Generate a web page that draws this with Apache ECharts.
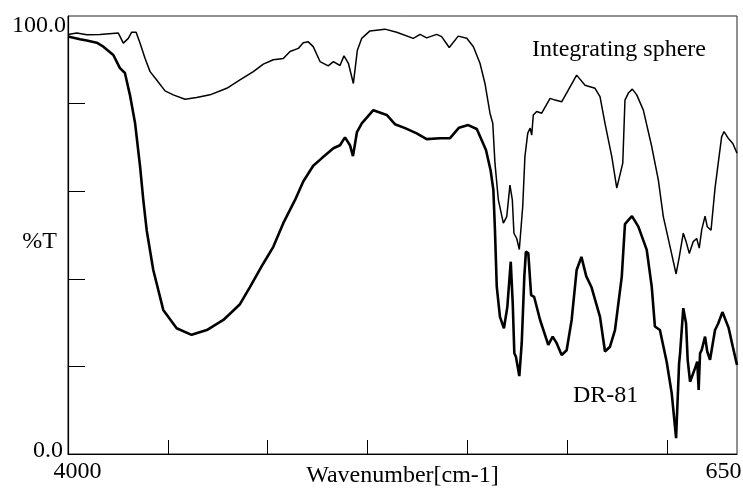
<!DOCTYPE html>
<html>
<head>
<meta charset="utf-8">
<script src="https://cdn.jsdelivr.net/npm/echarts@6/dist/echarts.min.js"></script>
<style>
html,body{margin:0;padding:0;background:#fff;}
#chart{width:743px;height:489px;}
</style>
</head>
<body>
<div id="chart"></div>
<script>
// Integrating sphere spectrum
var sphereWn = [4000,3956,3906,3840,3748,3723,3698,3681,3659,3639,3614,3589,3556,3514,3473,3414,3356,3289,3205,3139,3072,3022,2972,2922,2888,2847,2822,2797,2772,2738,2697,2671,2638,2618,2596,2571,2551,2529,2488,2413,2354,2271,2237,2204,2154,2129,2091,2046,2003,1970,1937,1912,1887,1873,1862,1845,1820,1803,1787,1775,1767,1753,1740,1723,1712,1698,1686,1678,1670,1653,1628,1586,1561,1528,1495,1453,1411,1361,1336,1311,1277,1252,1222,1211,1194,1174,1152,1119,1077,1044,1019,985,955,939,919,905,889,869,852,839,827,810,799,780,760,744,727,715,694,671,650];
var sphereT = [95.8,96.1,95.7,95.8,96.1,93.8,94.9,96.3,96.3,93.8,90.3,87.3,85.4,82.9,82.0,81.0,81.4,82.0,83.5,85.4,87.3,89.0,90.0,90.3,91.9,92.6,93.9,94.1,93.0,89.6,88.6,89.6,88.7,90.9,89.2,84.6,92.2,94.9,96.6,97.0,96.3,94.9,95.8,95.0,95.8,95.3,92.8,95.4,94.9,93.0,89.2,84.6,77.8,75.5,66.4,58.0,52.7,54.2,61.4,58.0,50.4,49.2,46.7,56.5,67.9,73.2,74.4,72.8,77.4,78.2,77.8,81.2,80.8,80.4,83.1,86.5,84.2,83.5,81.6,75.5,67.9,60.7,66.4,80.8,82.4,83.3,82.0,78.5,70.2,62.6,54.2,47.3,41.1,45.0,50.4,48.5,45.8,48.5,49.2,47.0,51.1,54.3,51.9,51.1,60.7,66.4,72.4,73.6,72.1,70.9,68.7];

// DR-81 spectrum
var drWn = [4000,3940,3906,3856,3823,3773,3740,3715,3690,3664,3639,3623,3606,3573,3523,3456,3381,3305,3222,3139,3089,3022,2972,2922,2863,2822,2772,2730,2671,2638,2613,2588,2573,2553,2529,2471,2404,2363,2312,2254,2204,2137,2087,2042,1996,1953,1907,1884,1870,1862,1853,1845,1837,1817,1800,1783,1773,1765,1757,1740,1728,1715,1707,1695,1681,1666,1636,1595,1573,1553,1528,1503,1478,1453,1429,1405,1378,1336,1311,1286,1261,1227,1211,1194,1176,1144,1102,1077,1061,1036,1002,977,955,940,935,919,905,897,885,860,849,842,835,827,810,799,785,760,744,723,692,671,650];
var drT = [95.3,94.7,94.4,93.9,93.0,91.1,88.1,87.0,82.0,75.5,65.6,58.0,51.1,42.0,32.9,28.7,27.2,28.3,30.6,34.2,38.1,43.5,47.3,52.7,58.0,62.2,65.8,67.5,69.8,70.5,72.3,70.5,68.0,73.5,75.5,78.5,77.4,75.3,74.4,73.2,71.9,72.1,72.1,74.5,75.1,74.2,69.4,64.8,60.3,51.1,38.2,37.8,31.3,28.7,33.6,43.9,34.4,23.0,22.2,17.8,25.3,40.5,46.2,45.8,36.3,35.9,30.6,24.9,26.8,25.3,22.6,23.7,30.6,42.0,45.0,40.6,38.0,31.3,23.4,24.5,28.3,40.5,52.5,53.4,54.3,51.9,46.6,38.2,29.1,28.3,21.0,13.9,3.6,20.7,23.0,33.3,29.8,21.5,16.5,19.6,21.1,14.6,23.0,23.7,26.8,23.4,21.5,28.3,29.8,32.4,28.8,24.5,20.3];

// Axis ticks and labels
var xTicks = [3500,3000,2500,2000,1500,1000];
var xLabelValues = [4000,650];
var yTicks = [20,40,60,80];
var yLabelValues = [0,100];
var xName = 'Wavenumber[cm-1]';
var yName = '%T';
var seriesNames = ['Integrating sphere','DR-81'];

function pairs(a,b){var out=[];for(var i=0;i<Math.min(a.length,b.length);i++)out.push([a[i],b[i]]);return out;}

var FONT = '"Liberation Serif","Times New Roman",serif';
var chart = echarts.init(document.getElementById('chart'), null, {renderer:'canvas'});
chart.setOption({
  backgroundColor:'#fff',
  animation:false,
  grid:{left:68, top:16, width:669, height:438, containLabel:false, outerBoundsMode:'none',
        show:true, borderColor:'#222', borderWidth:1, backgroundColor:'transparent'},
  xAxis:{
    type:'value', min:650, max:4000, inverse:true,
    name:xName, nameLocation:'middle', nameGap:10, nameMoveOverlap:false,
    nameTextStyle:{fontFamily:FONT, fontSize:24, color:'#000', verticalAlign:'top'},
    axisLine:{show:true, lineStyle:{color:'#000', width:1.2}},
    axisTick:{show:true, inside:true, length:14, customValues:xTicks, lineStyle:{color:'#000', width:1}},
    axisLabel:{show:true, customValues:xLabelValues, margin:6,
      formatter:function(v){return v===4000?'{a|'+v+'}':'{b|'+v+'}';},
      rich:{a:{fontFamily:FONT,fontSize:24,color:'#000',padding:[0,0,0,19]},
            b:{fontFamily:FONT,fontSize:24,color:'#000',padding:[0,27,0,0]}}},
    splitLine:{show:false}
  },
  yAxis:{
    type:'value', min:0, max:100,
    name:yName, nameLocation:'middle', nameRotate:0, nameGap:11, nameMoveOverlap:false,
    nameTextStyle:{fontFamily:FONT, fontSize:24, color:'#000', align:'right', verticalAlign:'top', lineHeight:14},
    axisLine:{show:true, lineStyle:{color:'#000', width:1.2}},
    axisTick:{show:true, inside:true, length:17, customValues:yTicks, lineStyle:{color:'#000', width:1}},
    axisLabel:{show:true, customValues:yLabelValues, margin:2,
      formatter:function(v){return v===100?'{a|'+v.toFixed(1)+'}':'{b|'+v.toFixed(1)+'}';},
      rich:{a:{fontFamily:FONT,fontSize:24,color:'#000',padding:[20,0,0,0]},
            b:{fontFamily:FONT,fontSize:24,color:'#000',padding:[0,3,7,0]}}},
    splitLine:{show:false}
  },
  graphic:[
    {type:'text', left:532, top:38, style:{text:seriesNames[0], font:'24px '+FONT, fill:'#000'}},
    {type:'text', left:573, top:384, style:{text:seriesNames[1], font:'24px '+FONT, fill:'#000'}}
  ],
  series:[
    {name:seriesNames[0], type:'line', data:pairs(sphereWn,sphereT), showSymbol:false, symbol:'none',
     lineStyle:{color:'#000', width:1.5}, z:3},
    {name:seriesNames[1], type:'line', data:pairs(drWn,drT), showSymbol:false, symbol:'none',
     lineStyle:{color:'#000', width:2.6}, z:4}
  ]
});
</script>
</body>
</html>
